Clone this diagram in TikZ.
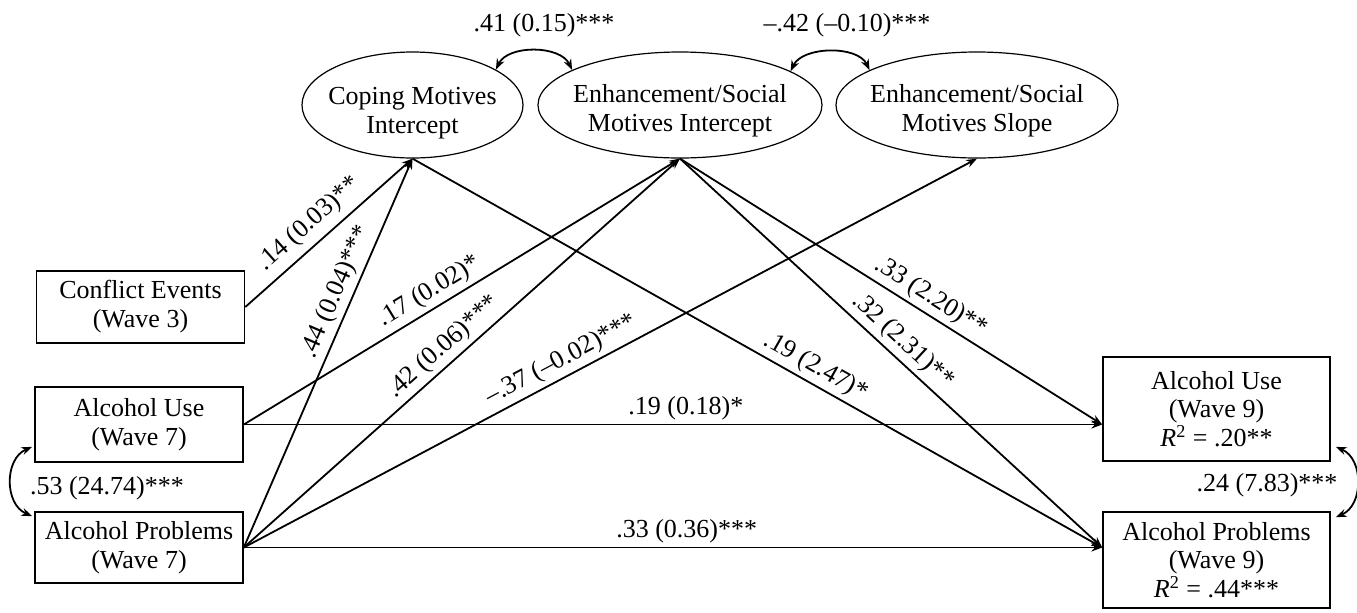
\documentclass[tikz,border=0pt]{standalone}
\usepackage{fontspec}
\setmainfont{Liberation Serif}
\usetikzlibrary{arrows.meta,calc,shapes.geometric}

\begin{document}
\begin{tikzpicture}[x=0.5pt,y=-0.5pt,
  every node/.style={font=\fontsize{13}{14.4}\selectfont},
  obs/.style={draw,line width=0.8pt,rectangle,inner sep=0pt,align=center,minimum width=104pt},
  lat/.style={draw,line width=0.6pt,ellipse,inner sep=0pt,minimum height=53pt},
  lattext/.style={align=center,inner sep=0pt},
  effect/.style={line width=0.9pt,-{Stealth[length=5.4pt,width=4pt]}},
  cov/.style={line width=0.9pt,{Stealth[length=5.4pt,width=4pt]}-{Stealth[length=5.4pt,width=4pt]}},
  est/.style={sloped,above,inner sep=2pt},
  lbl/.style={inner sep=0pt}
]
\useasboundingbox (0,0) rectangle (1357,612);

% latent growth factors
\node[lat,minimum width=110.5pt] (Cop) at (412.5,105) {};
\node[lat,minimum width=142pt]   (Enh) at (680,105) {};
\node[lat,minimum width=141pt]   (Slp) at (977,105) {};
\node[lattext] (Cop-t) at (412.5,113) {Coping Motives\\Intercept};
\node[lattext] (Enh-t) at (680,111) {Enhancement/Social\\Motives Intercept};
\node[lattext] (Slp-t) at (977,111) {Enhancement/Social\\Motives Slope};

% observed predictors
\node[obs,minimum height=36pt]   (CE)  at (140.5,307) {Conflict Events\\(Wave 3)};
\node[obs,minimum height=37.5pt] (AU7) at (139,424.5) {Alcohol Use\\(Wave 7)};
\node[obs,minimum height=35.5pt] (AP7) at (139,547.5) {Alcohol Problems\\(Wave 7)};

% outcomes
\node[obs,minimum width=113.5pt,minimum height=52pt] (AU9) at (1216.5,409)
  {Alcohol Use\\(Wave 9)\\\textit{R}\textsuperscript{2} = .20**};
\node[obs,minimum width=113.5pt,minimum height=48pt] (AP9) at (1216.5,560)
  {Alcohol Problems\\(Wave 9)\\\textit{R}\textsuperscript{2} = .44***};

\coordinate (AU9in) at (AU9.west |- AU7.east);
\coordinate (AP9in) at (AP9.west |- AP7.east);

% regression paths
\draw[effect] (CE.east)  -- node[est,pos=0.46,inner sep=3.5pt]{.14 (0.03)**} (Cop.south);
\draw[effect] (AU7.east) -- node[est,pos=0.446]{.17 (0.02)*} (Enh.south);
\draw[effect] (AU7.east) -- node[above,pos=0.515,inner sep=2pt]{.19 (0.18)*} (AU9in);
\draw[effect] (AP7.east) -- node[est,pos=0.64]{.44 (0.04)***} (Cop.south);
\draw[effect] (AP7.east) -- node[est,pos=0.484]{.42 (0.06)***} (Enh.south);
\draw[effect] (AP7.east) -- node[est,pos=0.444]{–.37 (–0.02)***} (Slp.south);
\draw[effect] (AP7.east) -- node[above,pos=0.516,inner sep=2pt]{.33 (0.36)***} (AP9in);
\draw[effect] (Cop.south) -- node[est,pos=0.573]{.19 (2.47)*} (AP9in);
\draw[effect] (Enh.south) -- node[est,pos=0.574]{.33 (2.20)**} (AU9in);
\draw[effect] (Enh.south) -- node[est,pos=0.501]{.32 (2.31)**} (AP9in);

% covariances
\draw[cov] (Cop.23) .. controls +(12,-25) and +(-12,-25) .. (Enh.162);
\draw[cov] (Enh.17) .. controls +(12,-25) and +(-12,-25) .. (Slp.162);
\draw[cov] ($(AU7.south west)+(-2,-16)$) .. controls +(-28,12) and +(-28,-12) .. ($(AP7.north west)+(-2,5)$);
\draw[cov] ($(AU9.south east)+(5,-15)$) .. controls +(28,12) and +(28,-12) .. ($(AP9.north east)+(5,6)$);

\node[lbl] (c-cop-enh) at (544,25) {.41 (0.15)***};
\node[lbl] (c-enh-slp) at (847,25) {–.42 (–0.10)***};
\node[lbl] (c-au7-ap7) at (107,488) {.53 (24.74)***};
\node[lbl] (c-au9-ap9) at (1267,485) {.24 (7.83)***};
\end{tikzpicture}
\end{document}
